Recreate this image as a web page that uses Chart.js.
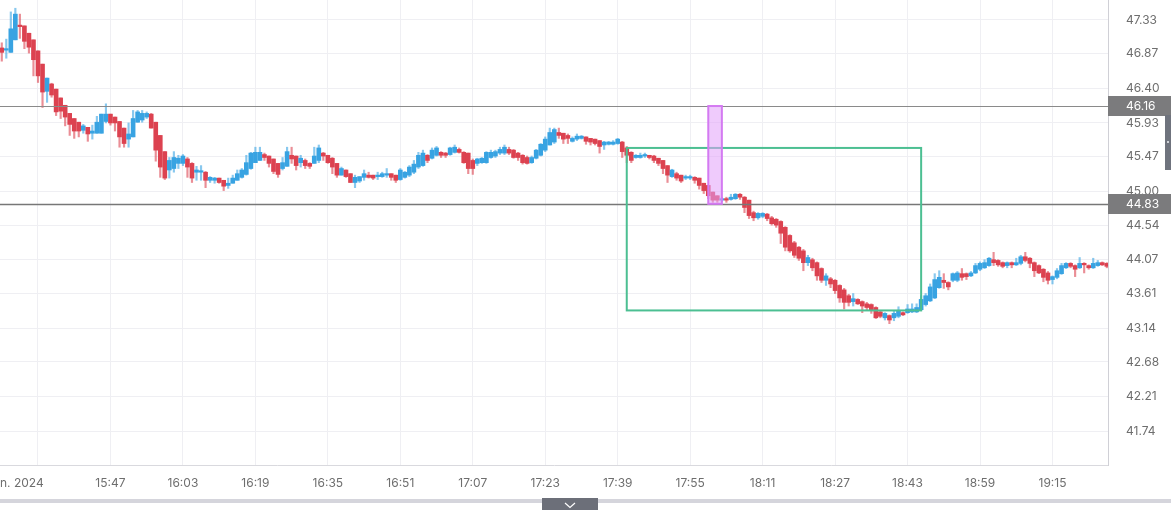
<!DOCTYPE html>
<html><head><meta charset="utf-8">
<script src="https://cdn.jsdelivr.net/npm/chart.js@4.4.1/dist/chart.umd.min.js"></script>
<style>html,body{margin:0;padding:0;background:#fff;overflow:hidden}canvas{display:block}</style>
</head><body><canvas id="c" width="1171" height="510"></canvas>
<script>
// one candle per minute, index 0 = 15:23
const openP = [
46.95,46.92,46.89,47.06,47.26,47.25,47.15,47.06,46.91,46.73,
46.36,46.46,46.39,46.27,46.17,46.06,45.99,45.94,45.83,45.87,
45.79,45.79,45.79,45.95,46.05,46.01,45.95,45.86,45.71,45.74,
45.94,45.97,46.01,46.05,45.94,45.76,45.54,45.29,45.31,45.38,
45.38,45.44,45.38,45.26,45.26,45.26,45.15,45.15,45.18,45.15,
45.08,45.11,45.15,45.19,45.23,45.31,45.39,45.42,45.50,45.48,
45.44,45.38,45.31,45.34,45.49,45.48,45.39,45.42,45.38,45.38,
45.42,45.52,45.49,45.45,45.38,45.22,45.29,45.24,45.12,45.14,
45.19,45.22,45.22,45.20,45.20,45.22,45.24,45.22,45.16,45.19,
45.22,45.26,45.33,45.35,45.49,45.45,45.49,45.53,45.52,45.50,
45.53,45.57,45.53,45.52,45.42,45.38,45.39,45.39,45.46,45.48,
45.52,45.52,45.57,45.56,45.52,45.49,45.46,45.39,45.45,45.49,
45.56,45.63,45.67,45.80,45.79,45.76,45.68,45.71,45.72,45.74,
45.72,45.71,45.69,45.63,45.64,45.64,45.65,45.67,45.59,45.53,
45.46,45.46,45.48,45.49,45.48,45.45,45.42,45.35,45.20,45.24,
45.22,45.18,45.18,45.19,45.18,45.11,45.08,44.99,44.94,44.88,
44.90,44.89,44.90,44.96,44.92,44.88,44.71,44.64,44.66,44.69,
44.64,44.62,44.59,44.51,44.40,44.30,44.24,44.19,44.03,44.07,
44.03,43.95,43.79,43.81,43.79,43.72,43.66,43.58,43.50,43.53,
43.50,43.47,43.46,43.42,43.36,43.28,43.31,43.28,43.30,43.35,
43.35,43.36,43.36,43.39,43.46,43.51,43.55,43.69,43.79,43.76,
43.79,43.79,43.88,43.88,43.85,43.89,43.94,43.96,43.99,44.07,
44.06,44.03,43.99,44.03,44.00,44.02,44.11,44.09,44.03,43.99,
43.94,43.89,43.80,43.83,43.88,43.96,44.02,43.99,43.96,44.02,
43.99,43.96,43.99,44.03,44.02];
const highP = [
47.02,47.07,47.44,47.49,47.41,47.25,47.15,47.06,46.91,46.73,
46.54,46.47,46.39,46.27,46.17,46.06,45.99,45.94,45.91,45.87,
45.90,46.02,46.05,46.19,46.05,46.01,45.95,45.86,45.93,46.10,
46.10,46.10,46.08,46.06,45.94,45.76,45.54,45.46,45.54,45.49,
45.50,45.46,45.39,45.34,45.35,45.27,45.20,45.19,45.18,45.15,
45.18,45.22,45.29,45.31,45.49,45.53,45.60,45.60,45.52,45.48,
45.44,45.38,45.46,45.60,45.60,45.48,45.49,45.44,45.39,45.60,
45.63,45.53,45.49,45.46,45.38,45.33,45.29,45.24,45.22,45.20,
45.29,45.26,45.22,45.26,45.26,45.31,45.24,45.22,45.31,45.27,
45.35,45.42,45.53,45.56,45.50,45.59,45.61,45.54,45.53,45.60,
45.63,45.59,45.54,45.52,45.44,45.45,45.46,45.54,45.56,45.56,
45.60,45.63,45.60,45.57,45.53,45.50,45.48,45.48,45.57,45.65,
45.74,45.86,45.86,45.86,45.79,45.78,45.74,45.78,45.76,45.74,
45.72,45.71,45.69,45.68,45.68,45.69,45.72,45.68,45.61,45.54,
45.50,45.52,45.52,45.49,45.49,45.45,45.42,45.35,45.30,45.26,
45.22,45.22,45.22,45.20,45.18,45.11,45.08,44.99,44.94,44.92,
44.92,44.96,44.97,44.97,44.93,44.88,44.73,44.71,44.71,44.70,
44.66,44.63,44.60,44.52,44.41,44.32,44.25,44.21,44.13,44.09,
44.04,43.96,43.88,43.83,43.80,43.73,43.68,43.60,43.61,43.54,
43.51,43.49,43.47,43.43,43.38,43.35,43.32,43.38,43.43,43.36,
43.46,43.47,43.47,43.58,43.61,43.74,43.88,43.92,43.88,43.77,
43.89,43.91,43.95,43.89,43.91,44.02,44.04,44.07,44.10,44.17,
44.07,44.04,44.04,44.04,44.09,44.13,44.17,44.10,44.04,44.00,
43.95,43.91,43.85,43.95,44.02,44.03,44.03,44.00,44.10,44.03,
44.00,44.09,44.06,44.04,44.03];
const lowP = [
46.77,46.81,46.89,47.06,47.08,46.94,46.88,46.57,46.48,46.14,
46.21,46.28,46.03,45.99,45.89,45.76,45.72,45.74,45.79,45.68,
45.71,45.79,45.79,45.93,45.90,45.82,45.60,45.60,45.60,45.74,
45.94,45.94,45.99,45.86,45.41,45.19,45.16,45.18,45.26,45.31,
45.35,45.19,45.12,45.15,45.15,45.05,45.12,45.11,45.11,45.01,
45.04,45.11,45.15,45.18,45.22,45.30,45.39,45.42,45.42,45.33,
45.24,45.19,45.29,45.34,45.38,45.29,45.33,45.31,45.31,45.38,
45.39,45.42,45.38,45.24,45.19,45.22,45.19,45.12,45.05,45.12,
45.15,45.18,45.16,45.16,45.19,45.19,45.15,45.12,45.15,45.18,
45.20,45.24,45.31,45.34,45.39,45.44,45.48,45.46,45.46,45.49,
45.52,45.52,45.38,45.24,45.23,45.35,45.38,45.38,45.45,45.46,
45.50,45.50,45.50,45.45,45.42,45.37,45.37,45.38,45.44,45.48,
45.54,45.63,45.65,45.72,45.65,45.65,45.67,45.69,45.71,45.64,
45.63,45.63,45.52,45.57,45.63,45.63,45.64,45.46,45.39,45.39,
45.45,45.45,45.46,45.44,45.39,45.35,45.24,45.12,45.19,45.15,
45.12,45.16,45.16,45.11,45.03,44.97,44.90,44.85,44.85,44.86,
44.85,44.88,44.89,44.89,44.71,44.63,44.60,44.62,44.64,44.60,
44.54,44.51,44.29,44.19,44.17,44.10,44.06,43.92,43.99,43.92,
43.79,43.76,43.72,43.69,43.61,43.49,43.40,43.44,43.44,43.46,
43.35,43.38,43.34,43.27,43.28,43.25,43.20,43.24,43.28,43.31,
43.34,43.35,43.35,43.38,43.44,43.50,43.54,43.68,43.68,43.66,
43.77,43.77,43.79,43.80,43.84,43.88,43.92,43.95,43.98,43.99,
43.98,43.96,43.96,43.96,43.99,44.00,44.04,43.96,43.84,43.88,
43.77,43.74,43.74,43.81,43.87,43.95,43.96,43.84,43.95,43.89,
43.94,43.95,43.98,43.99,43.96];
const closeP = [
46.89,46.94,47.21,47.41,47.24,47.04,46.96,46.79,46.57,46.35,
46.54,46.31,46.08,46.09,46.01,45.91,45.82,45.82,45.89,45.78,
45.82,45.94,46.05,46.05,45.93,45.93,45.74,45.65,45.78,45.99,
46.08,46.06,46.06,45.86,45.56,45.33,45.18,45.42,45.46,45.45,
45.48,45.33,45.18,45.29,45.27,45.15,45.19,45.18,45.12,45.07,
45.11,45.18,45.24,45.29,45.39,45.52,45.53,45.53,45.46,45.38,
45.27,45.23,45.39,45.54,45.44,45.35,45.45,45.35,45.34,45.48,
45.59,45.48,45.39,45.33,45.22,45.31,45.20,45.12,45.19,45.20,
45.24,45.19,45.18,45.22,45.24,45.24,45.19,45.15,45.29,45.26,
45.33,45.37,45.49,45.52,45.42,45.56,45.59,45.49,45.49,45.59,
45.60,45.53,45.39,45.31,45.31,45.44,45.45,45.53,45.53,45.54,
45.57,45.60,45.52,45.46,45.46,45.39,45.38,45.46,45.56,45.64,
45.71,45.80,45.84,45.76,45.71,45.72,45.72,45.75,45.75,45.68,
45.67,45.65,45.61,45.67,45.67,45.67,45.71,45.54,45.49,45.42,
45.49,45.49,45.50,45.46,45.42,45.38,45.31,45.22,45.29,45.18,
45.14,45.20,45.20,45.15,45.08,45.01,44.94,44.88,44.88,44.90,
44.88,44.92,44.96,44.92,44.78,44.67,44.64,44.70,44.70,44.63,
44.56,44.54,44.43,44.24,44.19,44.13,44.09,44.03,44.10,43.96,
43.85,43.79,43.85,43.74,43.65,43.55,43.49,43.49,43.54,43.47,
43.44,43.42,43.39,43.28,43.30,43.34,43.25,43.34,43.38,43.32,
43.40,43.40,43.42,43.53,43.58,43.70,43.80,43.83,43.76,43.70,
43.88,43.89,43.83,43.84,43.89,43.99,44.02,44.03,44.09,44.03,
44.00,43.98,44.03,44.00,44.03,44.11,44.06,44.02,43.92,43.89,
43.83,43.79,43.84,43.92,43.99,44.02,43.98,43.94,44.02,44.00,
43.96,44.02,44.03,44.00,43.98];

const yTickValues = [47.33,46.87,46.40,45.93,45.47,45.00,44.54,44.07,43.61,43.14,42.68,42.21,41.74];
const xTickPositions = [8,24,40,56,72,88,104,120,136,152,168,184,200,216,232];
const xTickLabels = ['n. 2024','15:47','16:03','16:19','16:35','16:51','17:07','17:23','17:39','17:55','18:11','18:27','18:43','18:59','19:15'];
const priceLines = [46.16, 44.83];
const zoneBox = {from: 138, to: 203, top: 45.59, bottom: 43.38};
const markBox = {from: 156, to: 159, top: 46.16, bottom: 44.83};
const yRange = {min: 41.278, max: 47.602};
const xRange = {min: -0.39, max: 244.26};

const UP = '#38a3e2', DOWN = '#dc4250';
const UP_W = 'rgba(56,163,226,0.6)', DOWN_W = 'rgba(220,66,80,0.6)';
const FONT = 'Inter';
const idx = openP.map((_, i) => i);
const isUp = i => closeP[i] >= openP[i];

const overlay = {
  id: 'overlay',
  afterDatasetsDraw(chart) {
    const {ctx, chartArea: a, scales: {x, y}} = chart;
    ctx.save();
    ctx.beginPath(); ctx.rect(a.left, a.top, a.right - a.left, a.bottom - a.top); ctx.clip();
    priceLines.forEach((v, k) => {
      const py = Math.round(y.getPixelForValue(v)) + 0.5;
      ctx.strokeStyle = k === 0 ? '#8a8a8a' : '#777';
      ctx.lineWidth = k === 0 ? 1 : 1.6;
      ctx.beginPath(); ctx.moveTo(a.left, py); ctx.lineTo(a.right, py); ctx.stroke();
    });
    const gx0 = x.getPixelForValue(zoneBox.from), gx1 = x.getPixelForValue(zoneBox.to);
    const gy0 = y.getPixelForValue(zoneBox.top), gy1 = y.getPixelForValue(zoneBox.bottom);
    ctx.strokeStyle = '#4cbf92'; ctx.lineWidth = 2;
    ctx.strokeRect(gx0, gy0, gx1 - gx0, gy1 - gy0);
    const px0 = x.getPixelForValue(markBox.from), px1 = x.getPixelForValue(markBox.to);
    const py0 = y.getPixelForValue(markBox.top), py1 = y.getPixelForValue(markBox.bottom);
    ctx.fillStyle = 'rgba(226,160,250,0.55)';
    ctx.fillRect(px0, py0, px1 - px0, py1 - py0);
    ctx.strokeStyle = '#d47af2'; ctx.lineWidth = 2;
    ctx.strokeRect(px0, py0, px1 - px0, py1 - py0);
    ctx.restore();
  },
  afterDraw(chart) {
    const {ctx, chartArea: a, scales: {y}, width, height} = chart;
    ctx.save();
    ctx.font = '12px ' + FONT;
    ctx.textBaseline = 'middle'; ctx.textAlign = 'left';
    priceLines.forEach(v => {
      const py = Math.round(y.getPixelForValue(v));
      ctx.fillStyle = '#7b7b7d';
      ctx.fillRect(a.right, py - 10, width - a.right, 20);
      ctx.fillStyle = '#fff';
      ctx.fillText(v.toFixed(2), a.right + 18, py + 0.5);
    });
    ctx.fillStyle = '#6e6e6e';
    ctx.fillText(xTickLabels[0], 0, 483);
    ctx.fillStyle = '#6f737d';
    ctx.fillRect(width - 6, 115, 6, 55);
    ctx.fillStyle = '#cfd2d8';
    ctx.fillRect(width - 4, 141, 2, 2);
    ctx.fillStyle = '#d5d5dc';
    ctx.fillRect(0, 499, width, 4);
    ctx.fillStyle = '#6c6f79';
    ctx.fillRect(542, 498, 56, height - 498);
    ctx.strokeStyle = '#ffffff'; ctx.lineWidth = 1.2;
    ctx.beginPath(); ctx.moveTo(565, 503); ctx.lineTo(570, 507.5); ctx.lineTo(575, 503); ctx.stroke();
    ctx.restore();
  }
};

const noPad = s => { s.paddingTop = 0; s.paddingBottom = 0; s.paddingLeft = 0; s.paddingRight = 0; };

new Chart(document.getElementById('c'), {
  type: 'bar',
  data: {
    datasets: [
      {
        label: 'body',
        data: idx.map(i => ({x: i, y: [openP[i], closeP[i]]})),
        backgroundColor: c => isUp(c.dataIndex) ? UP : DOWN,
        barThickness: 4,
        minBarLength: 1.5,
        grouped: false,
        order: 0
      },
      {
        label: 'wick',
        data: idx.map(i => ({x: i, y: [lowP[i], highP[i]]})),
        backgroundColor: c => isUp(c.dataIndex) ? UP_W : DOWN_W,
        barThickness: 1.5,
        grouped: false,
        order: 1
      }
    ]
  },
  options: {
    responsive: false,
    devicePixelRatio: 1,
    animation: false,
    layout: {padding: 0},
    plugins: {legend: {display: false}, tooltip: {enabled: false}},
    scales: {
      x: {
        type: 'linear',
        min: xRange.min, max: xRange.max,
        offset: false,
        afterBuildTicks: s => { s.ticks = xTickPositions.map(v => ({value: v})); },
        afterFit: s => { s.height = 45; noPad(s); },
        grid: {color: '#efeff3', drawTicks: false, offset: false},
        border: {color: '#d9d9de'},
        ticks: {
          autoSkip: false, maxRotation: 0, padding: 11,
          color: '#6e6e6e', font: {family: FONT, size: 12},
          callback: (v, i) => i === 0 ? '' : xTickLabels[i]
        }
      },
      y: {
        type: 'linear',
        position: 'right',
        min: yRange.min, max: yRange.max,
        afterBuildTicks: s => { s.ticks = yTickValues.map(v => ({value: v})); },
        afterFit: s => { s.width = 63; noPad(s); },
        grid: {color: '#efeff3', drawTicks: false},
        border: {color: '#d0d0d6'},
        ticks: {
          padding: 18, color: '#6e6e6e', font: {family: FONT, size: 12},
          callback: v => Number(v).toFixed(2)
        }
      }
    }
  },
  plugins: [overlay]
});
</script>
</body></html>
